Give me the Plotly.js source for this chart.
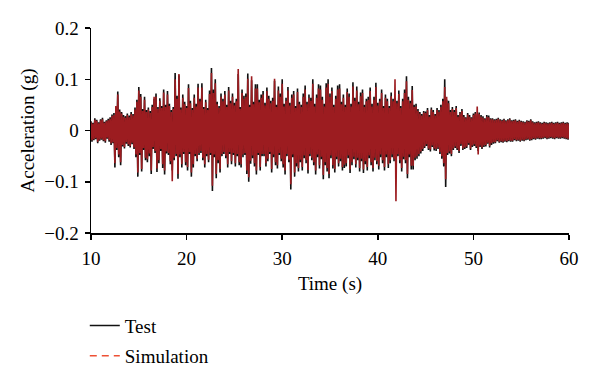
<!DOCTYPE html>
<html>
<head>
<meta charset="utf-8">
<script src="https://cdn.plot.ly/plotly-3.0.1.min.js"></script>
<style>
  html, body { margin: 0; padding: 0; background: #fff; }
  #chart { width: 600px; height: 378px; }
</style>
</head>
<body>
<div id="chart"></div>
<script>
// Sampling of the records (s)
const startTime = 10;
const sampleStep = 0.1;

// Measured (Test) acceleration, g — one row per second, 10 samples each
const testAccel = [
  0.018,-0.022,0.015,-0.019,0.024,-0.017,0.021,-0.025,0.016,-0.020,
  0.022,-0.018,0.025,-0.021,0.017,-0.024,0.020,-0.016,0.023,-0.022,
  0.026,-0.028,0.031,-0.025,0.034,-0.072,0.045,-0.038,0.076,-0.052,
  0.041,-0.068,0.036,-0.031,0.030,-0.035,0.028,-0.026,0.033,-0.030,
  0.029,-0.033,0.036,-0.027,0.032,-0.036,0.045,-0.052,0.060,-0.090,
  0.085,-0.048,0.071,-0.080,0.042,-0.038,0.066,-0.058,0.040,-0.062,
  0.045,-0.050,0.038,-0.085,0.050,-0.036,0.062,-0.044,0.072,-0.081,
  0.046,-0.064,0.063,-0.040,0.048,-0.073,0.080,-0.086,0.050,-0.045,
  0.077,-0.048,0.052,-0.066,0.040,-0.078,0.046,-0.058,0.112,-0.050,
  0.068,-0.094,0.108,-0.052,0.045,-0.072,0.070,-0.046,0.056,-0.068,
  0.048,-0.078,0.090,-0.046,0.058,-0.090,0.044,-0.072,0.070,-0.050,
  0.052,-0.060,0.091,-0.048,0.062,-0.044,0.092,-0.058,0.046,-0.072,
  0.060,-0.050,0.044,-0.062,0.078,-0.048,0.122,-0.118,0.080,-0.052,
  0.100,-0.093,0.056,-0.064,0.048,-0.082,0.072,-0.050,0.062,-0.046,
  0.077,-0.054,0.050,-0.072,0.085,-0.046,0.058,-0.066,0.072,-0.048,
  0.054,-0.070,0.062,-0.050,0.110,-0.068,0.046,-0.072,0.080,-0.052,
  0.068,-0.048,0.072,-0.085,0.111,-0.100,0.050,-0.065,0.098,-0.054,
  0.056,-0.070,0.090,-0.086,0.090,-0.048,0.060,-0.078,0.070,-0.050,
  0.077,-0.050,0.054,-0.070,0.084,-0.060,0.068,-0.046,0.058,-0.082,
  0.064,-0.052,0.097,-0.068,0.050,-0.074,0.086,-0.048,0.072,-0.060,
  0.100,-0.072,0.052,-0.086,0.064,-0.050,0.085,-0.062,0.054,-0.115,
  0.070,-0.052,0.077,-0.090,0.048,-0.070,0.082,-0.080,0.056,-0.062,
  0.050,-0.078,0.072,-0.054,0.088,-0.064,0.056,-0.084,0.070,-0.050,
  0.064,-0.058,0.100,-0.068,0.052,-0.086,0.070,-0.052,0.090,-0.074,
  0.088,-0.056,0.066,-0.095,0.052,-0.068,0.092,-0.080,0.100,-0.093,
  0.072,-0.054,0.084,-0.074,0.050,-0.082,0.068,-0.056,0.088,-0.070,
  0.090,-0.060,0.056,-0.078,0.070,-0.073,0.050,-0.070,0.082,-0.054,
  0.072,-0.083,0.052,-0.068,0.094,-0.056,0.064,-0.072,0.086,-0.058,
  0.056,-0.080,0.074,-0.060,0.080,-0.083,0.050,-0.066,0.062,-0.078,
  0.066,-0.054,0.084,-0.068,0.052,-0.080,0.066,-0.058,0.093,-0.066,
  0.054,-0.076,0.062,-0.052,0.080,-0.064,0.048,-0.078,0.070,-0.052,
  0.062,-0.073,0.048,-0.064,0.074,-0.052,0.062,-0.060,0.064,-0.068,
  0.058,-0.050,0.078,-0.064,0.048,-0.080,0.062,-0.056,0.080,-0.064,
  0.106,-0.093,0.066,-0.052,0.058,-0.076,0.087,-0.076,0.050,-0.058,
  0.052,-0.055,0.042,-0.050,0.036,-0.045,0.032,-0.040,0.038,-0.034,
  0.037,-0.030,0.044,-0.038,0.030,-0.041,0.045,-0.032,0.040,-0.039,
  0.032,-0.040,0.044,-0.036,0.040,-0.046,0.050,-0.055,0.062,-0.070,
  0.100,-0.110,0.060,-0.048,0.058,-0.045,0.040,-0.050,0.046,-0.038,
  0.040,-0.034,0.048,-0.038,0.030,-0.044,0.036,-0.030,0.042,-0.038,
  0.030,-0.036,0.026,-0.034,0.034,-0.028,0.030,-0.038,0.026,-0.032,
  0.033,-0.030,0.036,-0.034,0.028,-0.040,0.035,-0.032,0.030,-0.036,
  0.028,-0.032,0.024,-0.031,0.030,-0.026,0.029,-0.033,0.024,-0.028,
  0.024,-0.026,0.022,-0.025,0.023,-0.021,0.025,-0.024,0.022,-0.023,
  0.021,-0.024,0.023,-0.022,0.020,-0.023,0.022,-0.021,0.024,-0.022,
  0.020,-0.022,0.021,-0.019,0.022,-0.021,0.019,-0.020,0.021,-0.022,
  0.019,-0.020,0.018,-0.021,0.017,-0.019,0.020,-0.018,0.019,-0.020,
  0.022,-0.019,0.018,-0.017,0.016,-0.018,0.017,-0.016,0.018,-0.017,
  0.016,-0.017,0.015,-0.016,0.017,-0.015,0.016,-0.017,0.015,-0.016,
  0.016,-0.015,0.017,-0.016,0.015,-0.017,0.016,-0.015,0.017,-0.016,
  0.015,-0.016,0.016,-0.015,0.017,-0.016,0.015,-0.017,0.016,-0.018,
  0.015
];

// Simulated acceleration, g — same sampling
const simAccel = [
  0.016,-0.019,0.013,-0.017,0.021,-0.015,0.019,-0.022,0.014,-0.018,
  0.020,-0.016,0.022,-0.019,0.015,-0.021,0.018,-0.014,0.020,-0.019,
  0.023,-0.025,0.028,-0.023,0.030,-0.064,0.048,-0.034,0.070,-0.047,
  0.037,-0.062,0.033,-0.028,0.027,-0.032,0.025,-0.023,0.030,-0.027,
  0.026,-0.030,0.032,-0.024,0.029,-0.033,0.041,-0.047,0.056,-0.082,
  0.078,-0.044,0.066,-0.075,0.038,-0.034,0.060,-0.053,0.036,-0.056,
  0.041,-0.045,0.034,-0.078,0.046,-0.032,0.066,-0.040,0.066,-0.074,
  0.042,-0.058,0.058,-0.036,0.044,-0.066,0.074,-0.078,0.046,-0.041,
  0.070,-0.044,0.048,-0.060,0.036,-0.099,0.042,-0.053,0.100,-0.046,
  0.062,-0.085,0.110,-0.047,0.041,-0.066,0.064,-0.042,0.051,-0.062,
  0.044,-0.071,0.083,-0.042,0.053,-0.082,0.040,-0.066,0.064,-0.046,
  0.047,-0.055,0.084,-0.044,0.057,-0.040,0.084,-0.053,0.042,-0.066,
  0.055,-0.046,0.040,-0.057,0.071,-0.044,0.112,-0.108,0.073,-0.047,
  0.092,-0.085,0.051,-0.058,0.044,-0.075,0.066,-0.046,0.057,-0.042,
  0.070,-0.049,0.046,-0.066,0.078,-0.042,0.053,-0.060,0.066,-0.044,
  0.049,-0.064,0.057,-0.046,0.120,-0.062,0.042,-0.066,0.073,-0.047,
  0.062,-0.044,0.066,-0.078,0.101,-0.091,0.046,-0.059,0.106,-0.049,
  0.051,-0.064,0.082,-0.078,0.082,-0.044,0.055,-0.071,0.064,-0.046,
  0.070,-0.046,0.049,-0.064,0.077,-0.055,0.062,-0.042,0.053,-0.075,
  0.058,-0.047,0.101,-0.062,0.046,-0.068,0.078,-0.044,0.066,-0.055,
  0.091,-0.066,0.047,-0.078,0.058,-0.046,0.078,-0.057,0.049,-0.105,
  0.064,-0.047,0.070,-0.082,0.044,-0.064,0.075,-0.073,0.051,-0.057,
  0.046,-0.071,0.066,-0.049,0.080,-0.058,0.051,-0.077,0.064,-0.046,
  0.058,-0.053,0.091,-0.062,0.047,-0.078,0.064,-0.047,0.082,-0.068,
  0.080,-0.051,0.060,-0.087,0.047,-0.062,0.084,-0.073,0.091,-0.085,
  0.066,-0.049,0.077,-0.068,0.046,-0.075,0.062,-0.051,0.080,-0.064,
  0.082,-0.055,0.051,-0.071,0.064,-0.067,0.046,-0.064,0.075,-0.049,
  0.066,-0.076,0.047,-0.062,0.086,-0.051,0.058,-0.066,0.078,-0.053,
  0.051,-0.073,0.067,-0.055,0.073,-0.076,0.046,-0.060,0.057,-0.071,
  0.060,-0.049,0.077,-0.062,0.047,-0.073,0.060,-0.053,0.085,-0.060,
  0.049,-0.069,0.057,-0.047,0.073,-0.058,0.044,-0.071,0.064,-0.047,
  0.057,-0.066,0.044,-0.058,0.067,-0.047,0.057,-0.055,0.100,-0.138,
  0.053,-0.046,0.071,-0.058,0.044,-0.073,0.057,-0.051,0.073,-0.058,
  0.096,-0.085,0.060,-0.047,0.053,-0.069,0.079,-0.069,0.046,-0.053,
  0.047,-0.050,0.038,-0.046,0.033,-0.041,0.029,-0.036,0.035,-0.031,
  0.034,-0.027,0.040,-0.035,0.027,-0.037,0.041,-0.029,0.036,-0.035,
  0.029,-0.036,0.040,-0.033,0.036,-0.042,0.046,-0.050,0.057,-0.064,
  0.085,-0.095,0.066,-0.044,0.053,-0.041,0.036,-0.046,0.042,-0.035,
  0.036,-0.031,0.044,-0.035,0.027,-0.040,0.033,-0.027,0.038,-0.035,
  0.027,-0.033,0.024,-0.031,0.031,-0.025,0.027,-0.035,0.024,-0.029,
  0.030,-0.027,0.033,-0.031,0.047,-0.047,0.032,-0.029,0.027,-0.033,
  0.025,-0.029,0.022,-0.028,0.027,-0.024,0.026,-0.030,0.022,-0.025,
  0.022,-0.023,0.020,-0.023,0.021,-0.019,0.023,-0.022,0.020,-0.021,
  0.019,-0.022,0.021,-0.020,0.018,-0.021,0.020,-0.019,0.022,-0.020,
  0.018,-0.020,0.019,-0.017,0.020,-0.019,0.017,-0.018,0.019,-0.020,
  0.017,-0.018,0.016,-0.019,0.015,-0.017,0.018,-0.016,0.017,-0.018,
  0.020,-0.017,0.016,-0.015,0.014,-0.016,0.015,-0.014,0.016,-0.015,
  0.014,-0.015,0.013,-0.014,0.015,-0.013,0.014,-0.015,0.013,-0.014,
  0.014,-0.013,0.015,-0.014,0.013,-0.015,0.014,-0.013,0.015,-0.014,
  0.013,-0.014,0.014,-0.013,0.015,-0.014,0.013,-0.015,0.014,-0.016,
  0.013
];

const seriesNames = ["Test", "Simulation"];
const xTicks = [10, 20, 30, 40, 50, 60];
const yTicks = [-0.2, -0.1, 0, 0.1, 0.2];
const yTickText = ["\u22120.2", "\u22120.1", "0", "0.1", "0.2"];

const timeTest = testAccel.map((_, i) => +(startTime + i * sampleStep).toFixed(2));
const timeSim = simAccel.map((_, i) => +(startTime + i * sampleStep).toFixed(2));

const FONT = "Liberation Serif, Times New Roman, serif";
const FS = 19;

const traces = [
  {
    x: timeTest, y: testAccel, name: seriesNames[0], type: "scatter", mode: "lines",
    line: { color: "#111111", width: 1.6, simplify: false }, legend: "legend", hoverinfo: "skip"
  },
  {
    x: timeSim, y: simAccel, name: seriesNames[1], type: "scatter", mode: "lines",
    line: { color: "#9c1c20", width: 1.6, simplify: false }, showlegend: false, hoverinfo: "skip"
  },
  // legend key for the simulation record (dashed, as in the figure key)
  {
    x: [null], y: [null], name: seriesNames[1], type: "scatter", mode: "lines",
    line: { color: "rgb(238,80,52)", width: 1.5, dash: "7px,5px" }, legend: "legend2", hoverinfo: "skip"
  }
];

const axisCommon = {
  showline: true, linecolor: "#000", linewidth: 1.5,
  ticks: "outside", ticklen: 5, tickwidth: 1.5, tickcolor: "#000",
  showgrid: false, zeroline: false, automargin: false,
  tickfont: { family: FONT, size: FS, color: "#000" }
};

const layout = {
  width: 600, height: 378,
  paper_bgcolor: "#fff", plot_bgcolor: "#fff",
  margin: { l: 91, r: 31, t: 28, b: 145, autoexpand: false },
  font: { family: FONT, size: FS, color: "#000" },
  xaxis: Object.assign({}, axisCommon, {
    range: [10, 60], tickvals: xTicks, ticktext: xTicks.map(String),
    ticklabelstandoff: 3,
    title: { text: "Time (s)", font: { family: FONT, size: FS, color: "#000" }, standoff: 8 }
  }),
  yaxis: Object.assign({}, axisCommon, {
    range: [-0.2, 0.2], tickvals: yTicks, ticktext: yTickText,
    ticklabelstandoff: 2,
    title: { text: "Acceleration (g)", font: { family: FONT, size: FS, color: "#000" }, standoff: 4 }
  }),
  showlegend: true,
  legend: {
    x: -0.013, xanchor: "left", y: -0.452, yanchor: "middle",
    bgcolor: "rgba(0,0,0,0)", borderwidth: 0,
    font: { family: FONT, size: FS, color: "#000" }
  },
  legend2: {
    x: -0.013, xanchor: "left", y: -0.599, yanchor: "middle",
    bgcolor: "rgba(0,0,0,0)", borderwidth: 0,
    font: { family: FONT, size: FS, color: "#000" }
  }
};

Plotly.newPlot("chart", traces, layout, { displayModeBar: false, staticPlot: true });
</script>
</body>
</html>
